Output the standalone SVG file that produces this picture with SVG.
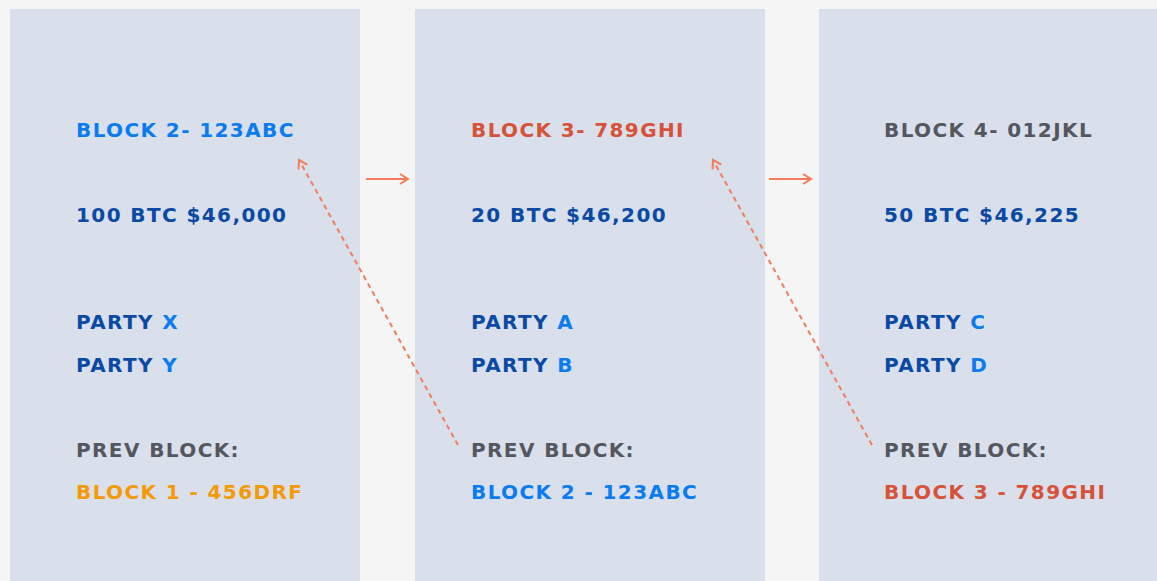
<svg xmlns="http://www.w3.org/2000/svg" width="1157" height="581" viewBox="0 0 1157 581">
<defs>
<style>
.panel{fill:#d9e0ec}
text{font-family:"DejaVu Sans","Liberation Sans",sans-serif;font-weight:bold;font-size:20px;letter-spacing:1.4px}
.bl{fill:#0b7bf0}.db{fill:#0a4aa5}.gr{fill:#54575e}.or{fill:#f49a07}.rd{fill:#d65239}
.conn{stroke:#f47c5a;stroke-width:2;fill:none}
.dash{stroke-dasharray:5 4}
</style>
<marker id="ah" viewBox="0 0 12 12" refX="10" refY="6" markerWidth="12" markerHeight="12" markerUnits="userSpaceOnUse" orient="auto">
<path d="M2,1 L10,6 L2,11" fill="none" stroke="#f47c5a" stroke-width="2"/>
</marker>
</defs>
<rect width="1157" height="581" fill="#f5f5f5"/>
<g id="block2">
<rect class="panel" x="10" y="9" width="350" height="572"/>
<text x="76" y="137" class="bl">BLOCK 2- 123ABC</text>
<text x="76" y="222" class="db">100 BTC $46,000</text>
<text x="76" y="329" class="db">PARTY <tspan class="bl">X</tspan></text>
<text x="76" y="372" class="db">PARTY <tspan class="bl">Y</tspan></text>
<text x="76" y="457" class="gr">PREV BLOCK:</text>
<text x="76" y="499" class="or">BLOCK 1 - 456DRF</text>
</g>
<g id="block3">
<rect class="panel" x="415" y="9" width="350" height="572"/>
<text x="471" y="137" class="rd">BLOCK 3- 789GHI</text>
<text x="471" y="222" class="db">20 BTC $46,200</text>
<text x="471" y="329" class="db">PARTY <tspan class="bl">A</tspan></text>
<text x="471" y="372" class="db">PARTY <tspan class="bl">B</tspan></text>
<text x="471" y="457" class="gr">PREV BLOCK:</text>
<text x="471" y="499" class="bl">BLOCK 2 - 123ABC</text>
</g>
<g id="block4">
<rect class="panel" x="819" y="9" width="338" height="572"/>
<text x="884" y="137" class="gr">BLOCK 4- 012JKL</text>
<text x="884" y="222" class="db">50 BTC $46,225</text>
<text x="884" y="329" class="db">PARTY <tspan class="bl">C</tspan></text>
<text x="884" y="372" class="db">PARTY <tspan class="bl">D</tspan></text>
<text x="884" y="457" class="gr">PREV BLOCK:</text>
<text x="884" y="499" class="rd">BLOCK 3 - 789GHI</text>
</g>
<g id="connectors">
<line class="conn" x1="366" y1="179" x2="408" y2="179" marker-end="url(#ah)"/>
<line class="conn" x1="769" y1="179" x2="811" y2="179" marker-end="url(#ah)"/>
<line class="conn dash" x1="458" y1="445" x2="299" y2="160" marker-end="url(#ah)"/>
<line class="conn dash" x1="872" y1="445" x2="713" y2="160" marker-end="url(#ah)"/>
</g>
</svg>
